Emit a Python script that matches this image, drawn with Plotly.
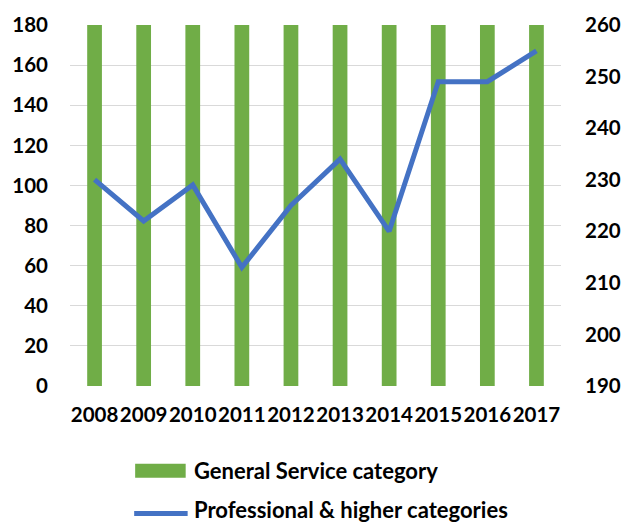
import plotly.graph_objects as go

years = ["2008", "2009", "2010", "2011", "2012", "2013", "2014", "2015", "2016", "2017"]
general_service = [180, 180, 180, 180, 180, 180, 180, 180, 180, 180]
professional = [230, 222, 229, 213, 225, 234, 220, 249, 249, 255]

GREEN = "#70AD47"
BLUE = "#4472C4"
FONT = "Lato"
TICK_SIZE = 20.5

fig = go.Figure()
fig.add_trace(go.Bar(
    x=years, y=general_service, name="General Service category",
    marker=dict(color=GREEN, line=dict(width=0)), width=0.3,
))
fig.add_trace(go.Scatter(
    x=years, y=professional, name="Professional & higher categories",
    mode="lines", line=dict(color=BLUE, width=5), yaxis="y2",
))

# legend drawn beneath the plot area
legend_items = [
    dict(kind="bar", text="General Service category", y0=-0.2541, y1=-0.2155, yc=-0.2348),
    dict(kind="line", text="Professional & higher categories", yc=-0.3425),
]
shapes = []
annotations = []
for item in legend_items:
    if item["kind"] == "bar":
        shapes.append(dict(type="rect", xref="paper", yref="paper",
                           x0=0.1327, x1=0.2356, y0=item["y0"], y1=item["y1"],
                           fillcolor=GREEN, line=dict(width=0)))
    else:
        shapes.append(dict(type="line", xref="paper", yref="paper",
                           x0=0.1307, x1=0.2396, y0=-0.3530, y1=-0.3530,
                           line=dict(color=BLUE, width=5)))
    annotations.append(dict(xref="paper", yref="paper", x=0.2475, y=item["yc"],
                            xanchor="left", yanchor="middle", showarrow=False,
                            text="<b>" + item["text"] + "</b>",
                            font=dict(family=FONT, size=22, color="#000000")))

tickfont = dict(family=FONT, size=TICK_SIZE, color="#000000", weight="bold")

fig.update_layout(
    width=633, height=524,
    margin=dict(l=68, r=60, t=24, b=138),
    paper_bgcolor="white", plot_bgcolor="white",
    showlegend=False, bargap=0.7,
    font=dict(family=FONT, size=TICK_SIZE, color="#000000"),
    xaxis=dict(type="category", showgrid=False, showline=False, ticks="",
               tickangle=0, tickfont=tickfont, ticklabelstandoff=14),
    yaxis=dict(range=[0, 180], dtick=20, showgrid=True, gridcolor="#D9D9D9", gridwidth=1.3,
               zeroline=False, showline=False, ticks="",
               tickfont=tickfont, ticklabelstandoff=21),
    yaxis2=dict(range=[190, 260], dtick=10, overlaying="y", side="right", showgrid=False,
                zeroline=False, showline=False, ticks="",
                tickfont=tickfont, ticklabelstandoff=23),
    shapes=shapes, annotations=annotations,
)

fig.write_html("out.html")
